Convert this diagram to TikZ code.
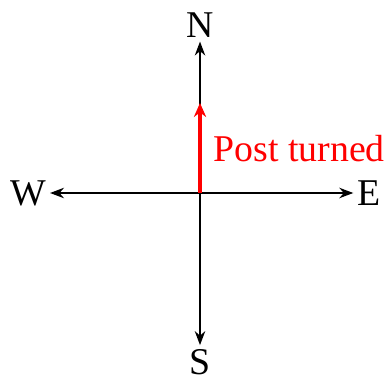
\documentclass[tikz,border=0pt]{standalone}
\usepackage{fontspec}
\setmainfont{Liberation Serif}
\usetikzlibrary{arrows.meta}

\begin{document}
\begin{tikzpicture}[
    x=0.2857pt, y=0.2857pt,
    font=\fontsize{10.8pt}{13pt}\selectfont,
    dir/.style={inner sep=1pt},
    axis/.style={draw, -{Stealth[length=4pt,width=3pt]}},
    turn/.style={draw, red, line width=1.2pt, -{Stealth[length=4pt,width=3.5pt]}}
]
\useasboundingbox (-200,-185) rectangle (187,193);

\coordinate (o) at (0,0);
\node [dir] (north) at (0,168) {N};
\node [dir] (south) at (0,-169) {S};
\node [dir] (west) at (-172,0) {W};
\node [dir] (east) at (169,0) {E};
\coordinate (post) at (0,90);
\node [red, anchor=west, inner sep=0pt] (label) at (13,44) {Post turned};

\path [axis] (o) -- (north);
\path [axis] (o) -- (south);
\path [axis] (o) -- (west);
\path [axis] (o) -- (east);
\path [turn] (o) -- (post);

\end{tikzpicture}
\end{document}
